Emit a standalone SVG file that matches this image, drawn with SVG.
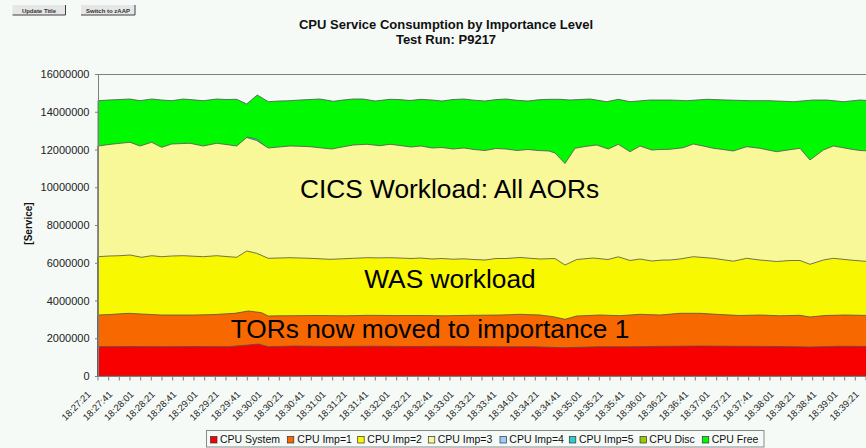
<svg xmlns="http://www.w3.org/2000/svg" width="866" height="448" viewBox="0 0 866 448">
<style>
text{font-family:"Liberation Sans",Arial,sans-serif;}
.btn{fill:#e6e6e6;}
.btntx{font-size:6px;font-weight:bold;fill:#333;text-anchor:middle;}
.ttl{font-size:13px;font-weight:bold;fill:#111;text-anchor:middle;}
.ylab{font-size:11px;fill:#222;text-anchor:end;}
.xlab{font-size:9.5px;fill:#222;text-anchor:end;}
.axis{stroke:#808080;stroke-width:1;fill:none;}
.area{stroke:#505050;stroke-width:0.8;stroke-linejoin:round;}
.big{font-size:26.3px;fill:#000;text-anchor:middle;}
.leg{font-size:10.5px;fill:#111;}
.sw{stroke:#333;stroke-width:0.7;}
</style>
<rect x="0" y="0" width="866" height="448" fill="#f5faf7"/>

<g id="buttons">
  <g id="btn-update">
    <rect class="btn" x="12.5" y="5" width="53" height="10"/>
    <path d="M65.5 5 V15 H12.5" stroke="#404040" stroke-width="1" fill="none"/>
    <text class="btntx" x="39" y="12.5">Update Title</text>
  </g>
  <g id="btn-switch">
    <rect class="btn" x="81" y="5" width="54" height="10"/>
    <path d="M135 5 V15 H81" stroke="#404040" stroke-width="1" fill="none"/>
    <text class="btntx" x="108" y="12.5">Switch to zAAP</text>
  </g>
</g>

<g id="title">
  <text class="ttl" x="446" y="29.3">CPU Service Consumption by Importance Level</text>
  <text class="ttl" x="446" y="44.3">Test Run: P9217</text>
</g>

<g id="areas">
  <polygon id="cpu-free" class="area" fill="#00f800" points="98,100.7 109,100 120,99.5 130,99 140,100.7 151.7,99 161.7,100 171.7,100.7 183.3,99 193,99.8 203.3,100.7 216.7,99 226,99.5 236.7,99.3 246.7,104 257.3,95 268.3,101.7 279,101 290,100.7 300,100 310,99.5 320,99 333.3,101.3 343,100 353.3,99 363.3,99 375,101 390,99.3 400,99.6 410,100.5 421,99.3 432,100 442,101 453,99.5 464,99 474,100.2 485,101 496,99.6 506,99 517,100.3 528,101 538,99.8 549,99.3 560,99.3 570,100 590,99 606.7,101.7 618.3,99.3 630,101.7 650,100 670,100 686.7,100.7 706.7,99.3 726.7,100 750,100.7 770,100.7 793.3,101.7 813.3,100 826.7,100 843.3,101.7 860,100 870,100.7 870,376 98,376"/>
  <polygon id="cpu-imp5" fill="#33cccc" stroke="#505050" stroke-width="0.5" points="247,137 257,139 266,147 262,147.5 255,142 247,138.5"/>
  <polygon id="cpu-imp3" class="area" fill="#f8f898" points="98,146 109,144.5 120,143.3 130,142.3 140,146 151.7,142.3 161.7,147.3 171.7,144 181,143.6 190,143.3 203.3,146 216.7,143.3 226,144.5 236.7,146 246.7,137.5 256.7,140.5 268.3,148 279,147 290,146 300,146.3 310,146.7 320,147.8 331.7,149 342,147 353.3,145 366.7,144.3 380,145.7 390,144.3 400,145.5 411,147 421,146 432,148 442,147.5 453,149 464,148 474,149.5 485,150.5 496,148.5 506,149 517,150.5 528,149.5 538,150.5 549,151 555,153 565,163.5 575,148.3 585,146.5 596.7,145 608.3,149 618.3,144.3 630,151.7 640,146 651.7,150 660,149.5 670,149.3 683.3,147.7 693.3,144 703,146 713.3,148.3 723,149.5 733.3,151 746.7,146.7 760,148.3 768,150 776.7,151.7 788,150 800,148.3 810,160 823.3,150 833.3,146 842,147.5 850,149 860,150.5 870,151 870,376 98,376"/>
  <polygon id="cpu-imp2" class="area" fill="#f8f800" points="98,256.7 109,256 120,255.7 130,255 141.7,257.3 151.7,255.7 161.7,256.7 171.7,256 183.3,255.7 193,256.2 203.3,256.7 216.7,255.7 226,256.5 236.7,257.3 246.7,251 256.7,253.3 268.3,258.3 279,258 290,257.7 300,258 310,258.3 320,258.8 330,259.3 342,258.8 353.3,258.3 366.7,257.7 378,257.9 390,257.7 400,258 411,258.5 421,258 432,259 442,258.5 453,259.2 464,258.8 474,259.5 485,260 496,258.5 506,258.5 520,257.5 540,259 555,258.5 565,265 576.7,259.5 593.3,258 608,259.5 618.3,256.8 630,260.5 640,259 651.7,261 663,260 670,260 680,259 693.3,256.7 713.3,258.3 733.3,261.2 746.7,258.3 760,260 776.7,261.5 790,260.5 800,260.5 810,264.3 823.3,260 833.3,258.3 850,260 870,261.7 870,376 98,376"/>
  <polygon id="cpu-imp1" class="area" fill="#f86800" points="98,315 110,314.5 128.3,313.3 145,314.2 161.7,315 180,315 195,315 215,314.5 235,313.3 248.3,311 261.7,312.7 268.3,316 280,315.8 295,315.7 320,315.5 345,315.8 370,315.3 395,315.6 420,315.5 445,315.8 470,315.3 500,315 520,314.3 540,315 553.3,316.7 565,319.3 576.7,316 600,315 620,315.7 640,314.3 660,315 680,313.3 700,313.3 720,314.5 740,315.5 760,315 780,315.8 800,315.3 810,317 825,315.5 845,315 870,315.5 870,376 98,376"/>
  <polygon id="cpu-system" class="area" fill="#f80000" points="98,346.7 130,346.5 161.7,346.7 195,346.5 228.3,346.7 248.3,345 258.3,344 268.3,346.7 295,346 330,346.5 370,346.2 410,346.5 450,346.3 500,346.7 533,346.7 565,347.7 600,346.7 633,346.7 666,346.3 700,346 740,346.3 780,346.5 810,347 840,346.3 870,346.5 870,376 98,376"/>
</g>

<g id="annotations">
  <text class="big" x="449.5" y="197.5">CICS Workload: All AORs</text>
  <text class="big" x="450" y="287.5">WAS workload</text>
  <text class="big" x="430" y="338.3">TORs now moved to importance 1</text>
</g>

<g id="y-axis">
  <line class="axis" x1="98" y1="74.5" x2="866" y2="74.5" stroke="#c4c4c4"/>
  <line class="axis" x1="98.5" y1="74" x2="98.5" y2="376.5"/>
  <path class="axis" d="M95 74.5H98M95 112.25H98M95 150H98M95 187.75H98M95 225.5H98M95 263.25H98M95 301H98M95 338.75H98M95 376.5H98"/>
  <text class="ylab" x="89.5" y="78">16000000</text>
  <text class="ylab" x="89.5" y="115.75">14000000</text>
  <text class="ylab" x="89.5" y="153.5">12000000</text>
  <text class="ylab" x="89.5" y="191.25">10000000</text>
  <text class="ylab" x="89.5" y="229">8000000</text>
  <text class="ylab" x="89.5" y="266.75">6000000</text>
  <text class="ylab" x="89.5" y="304.5">4000000</text>
  <text class="ylab" x="89.5" y="342.25">2000000</text>
  <text class="ylab" x="89.5" y="380">0</text>
  <text x="0" y="0" transform="translate(31.5,223.5) rotate(-90)" font-size="10" font-weight="bold" fill="#111" text-anchor="middle">[Service]</text>
</g>

<g id="x-axis">
  <line class="axis" x1="95" y1="376.5" x2="866" y2="376.5"/>
  <line x1="97.5" y1="378.5" x2="867" y2="378.5" stroke="#808080" stroke-width="4" stroke-dasharray="1 9.6667"/>
  <text class="xlab" transform="translate(91.6,395) rotate(-45)">18:27:21</text>
  <text class="xlab" transform="translate(112.93,395) rotate(-45)">18:27:41</text>
  <text class="xlab" transform="translate(134.27,395) rotate(-45)">18:28:01</text>
  <text class="xlab" transform="translate(155.6,395) rotate(-45)">18:28:21</text>
  <text class="xlab" transform="translate(176.93,395) rotate(-45)">18:28:41</text>
  <text class="xlab" transform="translate(198.27,395) rotate(-45)">18:29:01</text>
  <text class="xlab" transform="translate(219.6,395) rotate(-45)">18:29:21</text>
  <text class="xlab" transform="translate(240.93,395) rotate(-45)">18:29:41</text>
  <text class="xlab" transform="translate(262.27,395) rotate(-45)">18:30:01</text>
  <text class="xlab" transform="translate(283.6,395) rotate(-45)">18:30:21</text>
  <text class="xlab" transform="translate(304.93,395) rotate(-45)">18:30:41</text>
  <text class="xlab" transform="translate(326.27,395) rotate(-45)">18:31:01</text>
  <text class="xlab" transform="translate(347.6,395) rotate(-45)">18:31:21</text>
  <text class="xlab" transform="translate(368.93,395) rotate(-45)">18:31:41</text>
  <text class="xlab" transform="translate(390.27,395) rotate(-45)">18:32:01</text>
  <text class="xlab" transform="translate(411.6,395) rotate(-45)">18:32:21</text>
  <text class="xlab" transform="translate(432.93,395) rotate(-45)">18:32:41</text>
  <text class="xlab" transform="translate(454.27,395) rotate(-45)">18:33:01</text>
  <text class="xlab" transform="translate(475.6,395) rotate(-45)">18:33:21</text>
  <text class="xlab" transform="translate(496.93,395) rotate(-45)">18:33:41</text>
  <text class="xlab" transform="translate(518.27,395) rotate(-45)">18:34:01</text>
  <text class="xlab" transform="translate(539.6,395) rotate(-45)">18:34:21</text>
  <text class="xlab" transform="translate(560.93,395) rotate(-45)">18:34:41</text>
  <text class="xlab" transform="translate(582.27,395) rotate(-45)">18:35:01</text>
  <text class="xlab" transform="translate(603.6,395) rotate(-45)">18:35:21</text>
  <text class="xlab" transform="translate(624.93,395) rotate(-45)">18:35:41</text>
  <text class="xlab" transform="translate(646.27,395) rotate(-45)">18:36:01</text>
  <text class="xlab" transform="translate(667.6,395) rotate(-45)">18:36:21</text>
  <text class="xlab" transform="translate(688.93,395) rotate(-45)">18:36:41</text>
  <text class="xlab" transform="translate(710.27,395) rotate(-45)">18:37:01</text>
  <text class="xlab" transform="translate(731.6,395) rotate(-45)">18:37:21</text>
  <text class="xlab" transform="translate(752.93,395) rotate(-45)">18:37:41</text>
  <text class="xlab" transform="translate(774.27,395) rotate(-45)">18:38:01</text>
  <text class="xlab" transform="translate(795.6,395) rotate(-45)">18:38:21</text>
  <text class="xlab" transform="translate(816.93,395) rotate(-45)">18:38:41</text>
  <text class="xlab" transform="translate(838.27,395) rotate(-45)">18:39:01</text>
  <text class="xlab" transform="translate(859.6,395) rotate(-45)">18:39:21</text>
</g>

<g id="legend">
  <rect x="206.5" y="430.5" width="557.5" height="16.5" fill="none" stroke="#8a8a8a" stroke-width="1"/>
  <rect class="sw" x="210.5" y="436.5" width="6.5" height="6.5" fill="#f80000"/>
  <text class="leg" x="220" y="443">CPU System</text>
  <rect class="sw" x="287.3" y="436.5" width="6.5" height="6.5" fill="#f86800"/>
  <text class="leg" x="297.3" y="443">CPU Imp=1</text>
  <rect class="sw" x="357.7" y="436.5" width="6.5" height="6.5" fill="#f8f800"/>
  <text class="leg" x="367.3" y="443">CPU Imp=2</text>
  <rect class="sw" x="428.3" y="436.5" width="6.5" height="6.5" fill="#f8f898"/>
  <text class="leg" x="437.7" y="443">CPU Imp=3</text>
  <rect class="sw" x="500" y="436.5" width="6.5" height="6.5" fill="#99ccff"/>
  <text class="leg" x="509.3" y="443">CPU Imp=4</text>
  <rect class="sw" x="569.3" y="436.5" width="6.5" height="6.5" fill="#33cccc"/>
  <text class="leg" x="579" y="443">CPU Imp=5</text>
  <rect class="sw" x="640" y="436.5" width="6.5" height="6.5" fill="#99cc00"/>
  <text class="leg" x="649.3" y="443">CPU Disc</text>
  <rect class="sw" x="702.3" y="436.5" width="6.5" height="6.5" fill="#00f800"/>
  <text class="leg" x="711.7" y="443">CPU Free</text>
</g>
</svg>
